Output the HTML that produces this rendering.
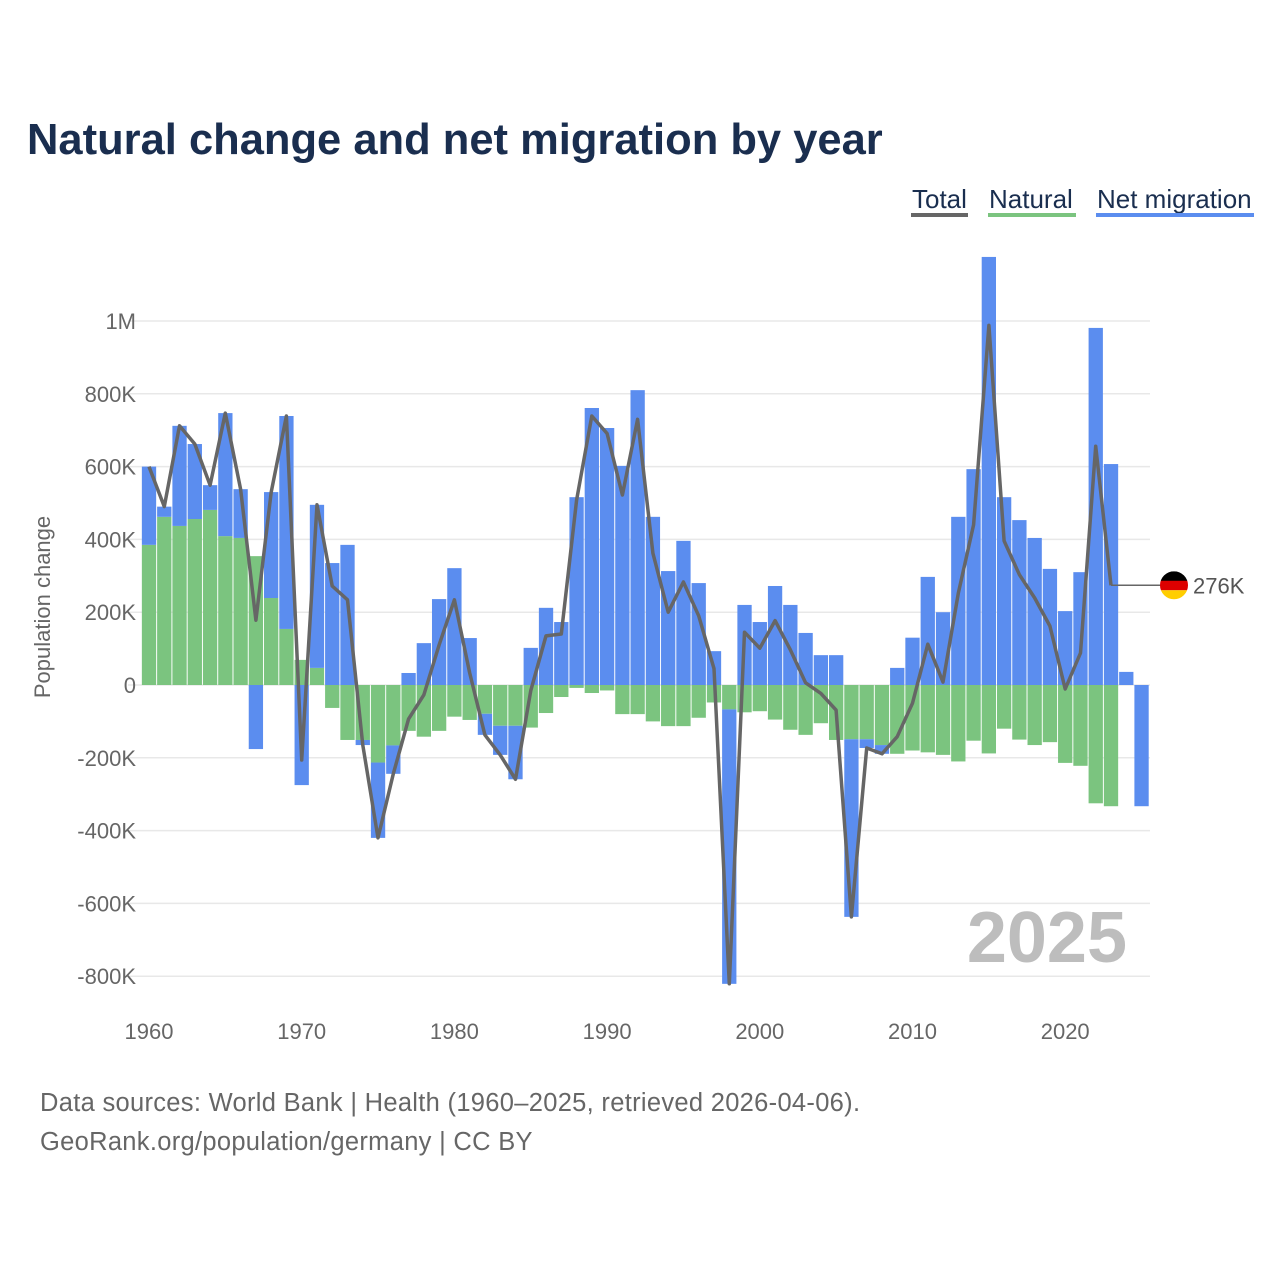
<!DOCTYPE html>
<html><head><meta charset="utf-8"><style>
body{margin:0;background:#fff;font-family:"Liberation Sans",sans-serif;}
svg text{font-family:"Liberation Sans",sans-serif;}
</style></head><body>
<svg id="c" width="1280" height="1280" viewBox="0 0 1280 1280">
<text x="27" y="154" font-size="43.5" font-weight="bold" fill="#1a2e4f">Natural change and net migration by year</text>
<g>
<g><text x="912" y="208" font-size="26" fill="#1a2e4f">Total</text><rect x="911" y="213" width="57" height="4" fill="#666"/></g>
<g><text x="989" y="208" font-size="26" fill="#1a2e4f">Natural</text><rect x="988" y="213" width="88" height="4" fill="#7bc47f"/></g>
<g><text x="1097" y="208" font-size="26" fill="#1a2e4f">Net migration</text><rect x="1096" y="213" width="158" height="4" fill="#5b8def"/></g>
</g>
<g id="grid"></g>
<g id="yt"></g>
<g id="xt"></g>
<g id="bars"></g>
<g id="line"></g>
<text x="1127" y="962" font-size="72" font-weight="bold" fill="#bdbdbd" text-anchor="end">2025</text>
<text transform="translate(50,607) rotate(-90)" font-size="22" fill="#666" text-anchor="middle">Population change</text>
<text x="40" y="1111" font-size="25.5" letter-spacing="0.3" fill="#666">Data sources: World Bank | Health (1960–2025, retrieved 2026-04-06).</text>
<text x="40" y="1150" font-size="25.5" letter-spacing="0.3" fill="#666">GeoRank.org/population/germany | CC BY</text>
</svg>
<script>
const years=[];for(let y=1960;y<=2025;y++)years.push(y);
const natural=[385,462,437,456,481,409,404,354,239,154,69,47,-63,-151,-151,-213,-166,-126,-142,-126,-87,-96,-79,-112,-112,-117,-77,-33,-8,-22,-15,-80,-80,-100,-113,-113,-90,-48,-67,-75,-72,-95,-123,-137,-105,-151,-149,-149,-165,-189,-180,-185,-192,-210,-153,-188,-120,-150,-165,-157,-214,-222,-325,-333,0,0];
const migration=[215,28,275,206,68,338,134,-176,291,585,-275,448,335,385,-14,-207,-78,33,115,236,321,129,-58,-80,-147,102,212,173,516,761,706,602,810,462,313,396,280,93,-754,220,173,272,220,143,82,82,-488,-24,-24,47,130,297,200,462,593,1176,516,453,404,319,203,310,981,607,36,-333];
const lastTotalYear=2023;
const yTicks=[-800,-600,-400,-200,0,200,400,600,800,1000];
const yTickLabels=["-800K","-600K","-400K","-200K","0","200K","400K","600K","800K","1M"];
const xTicks=[1960,1970,1980,1990,2000,2010,2020];
const endLabel="276K";
const NS="http://www.w3.org/2000/svg";
const X=y=>149+(y-1960)*15.27;
const Y=v=>685-v*0.364;
function mk(t,a,p){const e=document.createElementNS(NS,t);for(const k in a)e.setAttribute(k,a[k]);p.appendChild(e);return e;}
const grid=document.getElementById('grid'),yt=document.getElementById('yt'),xt=document.getElementById('xt'),bars=document.getElementById('bars'),line=document.getElementById('line');
yTicks.forEach((v,i)=>{
 const l=mk('line',{x1:128,x2:1150,y1:Y(v),y2:Y(v),stroke:'#e8e8e8','stroke-width':1.5},grid);
 
 
 const t=mk('text',{x:136,y:Y(v)+8,'font-size':22,fill:'#666','text-anchor':'end'},yt);
 t.textContent=yTickLabels[i];
 
 
});
xTicks.forEach(v=>{
 const t=mk('text',{x:X(v),y:1039,'font-size':22,fill:'#666','text-anchor':'middle'},xt);
 t.textContent=v;
 
 
});
const w=14.3;
years.forEach((yr,i)=>{
 const n=natural[i],m=migration[i];
 let pos=0,neg=0;
 const segs=[];
 if(n>=0){segs.push([0,n,'#7bc47f','natural']);pos=n;}else{segs.push([0,n,'#7bc47f','natural']);neg=n;}
 if(m>=0){segs.push([pos,pos+m,'#5b8def','migration']);}else{segs.push([neg,neg+m,'#5b8def','migration']);}
 segs.forEach(s=>{
  if(s[0]===s[1])return;
  const y1=Y(Math.max(s[0],s[1])),y2=Y(Math.min(s[0],s[1]));
  const r=mk('rect',{x:X(yr)-w/2,y:y1,width:w,height:y2-y1,fill:s[2]},bars);
  
  
 });
});
let d='';
years.forEach((yr,i)=>{if(yr<=lastTotalYear){d+=(i?'L':'M')+X(yr).toFixed(1)+','+Y(natural[i]+migration[i]).toFixed(1);}});
const p=mk('path',{d:d,fill:'none',stroke:'#666','stroke-width':3.5,'stroke-linejoin':'round'},line);


const li=years.indexOf(lastTotalYear);const ly=Y(natural[li]+migration[li]);
const c=mk('line',{x1:X(lastTotalYear),x2:1162,y1:ly,y2:ly,stroke:'#666','stroke-width':1.5},line);


const f=mk('g',{},line);


const cp=mk('clipPath',{id:'fc'},f);mk('circle',{cx:1174,cy:ly,r:14},cp);
const fg=mk('g',{'clip-path':'url(#fc)'},f);
mk('rect',{x:1160,y:ly-14,width:28,height:10,fill:'#000'},fg);
mk('rect',{x:1160,y:ly-4.5,width:28,height:9.5,fill:'#dd0000'},fg);
mk('rect',{x:1160,y:ly+5,width:28,height:10,fill:'#ffce00'},fg);
const et=mk('text',{x:1193,y:ly+8,'font-size':22,fill:'#555'},line);
et.textContent=endLabel;


</script>
</body></html>
